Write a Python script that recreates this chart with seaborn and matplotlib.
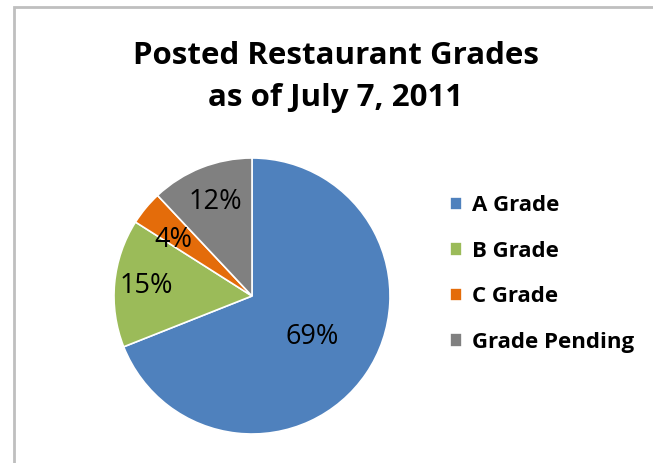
import numpy as np
import matplotlib
matplotlib.use('Agg')
import matplotlib.pyplot as plt
import seaborn as sns
from matplotlib.patches import Rectangle

# dados
grades = ['A Grade', 'B Grade', 'C Grade', 'Grade Pending']
shares = [69, 15, 4, 12]
colors = ['#4F81BD', '#9BBB59', '#E46C0A', '#808080']

sns.set_theme(style='white')
plt.rcParams['font.family'] = ['Open Sans', 'DejaVu Sans']

W, H = 653, 463
fig = plt.figure(figsize=(W / 100, H / 100), dpi=100)

# borda cinza do gráfico
fig.add_artist(Rectangle((14 / W, -0.2), 1.2, 1 - 7 / H + 0.2, transform=fig.transFigure,
                         facecolor='none', edgecolor='#BFBFBF', linewidth=2))

cx, cy, r = 252, 296, 138
ax = fig.add_axes([(cx - r) / W, (H - cy - r) / H, 2 * r / W, 2 * r / H])
wedges, texts, autotexts = ax.pie(shares, colors=colors, startangle=90, counterclock=False,
                                  autopct='%1.0f%%', pctdistance=0.72,
                                  wedgeprops={'edgecolor': 'white', 'linewidth': 1.2},
                                  textprops={'fontsize': 19.5, 'color': 'black'})
ax.set_xlim(-1, 1)
ax.set_ylim(-1, 1)
ax.set_aspect('equal')

# ajuste fino da posição dos rótulos (distância, ângulo extra)
dist = [0.53, 0.77, 0.70, 0.73]
shift = [0, 0, 4, 0]
for w, t, d, s in zip(wedges, autotexts, dist, shift):
    ang = np.deg2rad((w.theta1 + w.theta2) / 2 + s)
    t.set_position((d * np.cos(ang), d * np.sin(ang)))

fig.text(336 / W, 1 - 77 / H, 'Posted Restaurant Grades\nas of July 7, 2011', ha='center', va='center',
         fontsize=22.5, fontweight='bold', color='black', linespacing=1.5)

leg = fig.legend(wedges, grades, loc='center left', bbox_to_anchor=(430 / W, 1 - 274 / H),
                 frameon=False, fontsize=16, handlelength=0.55, handleheight=0.55,
                 labelspacing=1.1, handletextpad=0.45)
for t in leg.get_texts():
    t.set_fontweight('bold')
    t.set_color('black')

fig.savefig('out.png', dpi=100)
